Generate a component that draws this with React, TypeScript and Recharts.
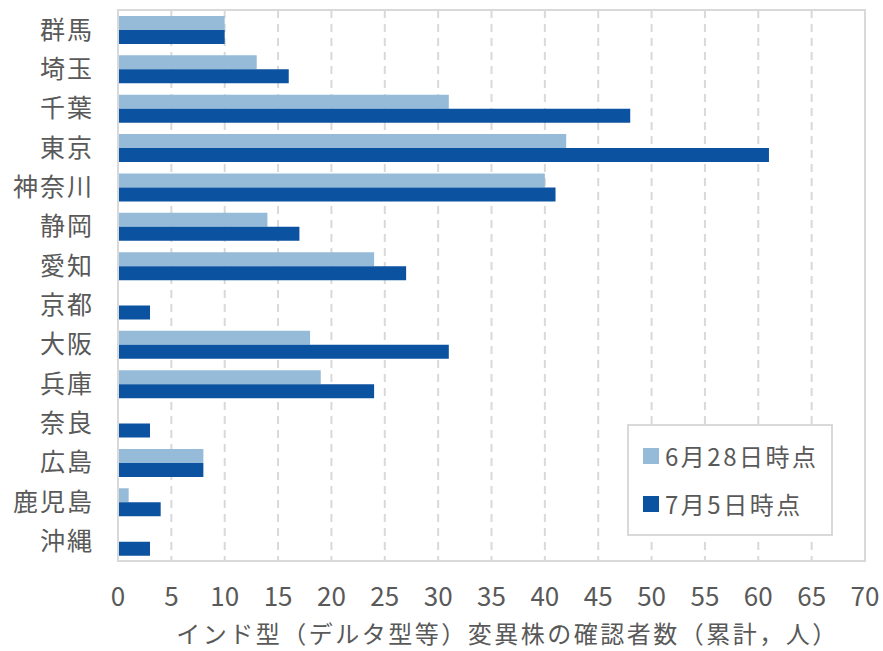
import { BarChart, Bar, XAxis, YAxis, CartesianGrid, Legend, ReferenceArea } from 'recharts';

// 都道府県ごとの確認者数（累計）
const prefectures = ['群馬', '埼玉', '千葉', '東京', '神奈川', '静岡', '愛知', '京都', '大阪', '兵庫', '奈良', '広島', '鹿児島', '沖縄'];
const june28 = [10, 13, 31, 42, 40, 14, 24, 0, 18, 19, 0, 8, 1, 0];
const july5 = [10, 16, 48, 61, 41, 17, 27, 3, 31, 24, 3, 8, 4, 3];
const xTicks = [0, 5, 10, 15, 20, 25, 30, 35, 40, 45, 50, 55, 60, 65, 70];

const seriesNames = ['6月28日時点', '7月5日時点'];
const seriesColors = ['#95bbd8', '#0b52a0'];

const FONT = '"Noto Sans CJK JP", "Noto Sans", sans-serif';
const TEXT = '#595959';
const LINE = '#d9d9d9';

const data = prefectures.map((name, i) => ({
  name,
  june28: june28[i],
  july5: july5[i],
}));

function LegendBox(props: any) {
  const items = props.payload || [];
  return (
    <div
      style={{
        display: 'flex',
        flexDirection: 'column',
        justifyContent: 'space-around',
        height: '100%',
        padding: '6px 0 6px 14px',
        boxSizing: 'border-box',
      }}
    >
      {items.map((item: any) => (
        <div key={item.value} style={{ display: 'flex', alignItems: 'center' }}>
          <span style={{ width: 16, height: 16, background: item.color, marginRight: 6, display: 'inline-block' }} />
          <span style={{ fontFamily: FONT, fontSize: 24, color: TEXT, letterSpacing: 2.5, lineHeight: '30px' }}>{item.value}</span>
        </div>
      ))}
    </div>
  );
}

export default function App() {
  return (
    <div style={{ width: 883, height: 651, background: '#fff' }}>
      <style>{'body{margin:0}'}</style>
      <BarChart
        width={883}
        height={651}
        data={data}
        layout="vertical"
        margin={{ top: 10, right: 18, bottom: 0, left: 0 }}
        barGap={0}
      >
        <CartesianGrid horizontal={false} stroke={LINE} strokeWidth={2} strokeDasharray="8 6" />
        <XAxis
          type="number"
          domain={[0, 70]}
          ticks={xTicks}
          height={90}
          axisLine={false}
          tickLine={false}
          tickSize={0}
          tickMargin={27}
          tick={{ fill: TEXT, fontSize: 26, fontFamily: FONT }}
          interval={0}
          label={{
            value: 'インド型（デルタ型等）変異株の確認者数（累計，人）',
            position: 'insideBottom',
            offset: 8,
            dx: 16,
            fill: TEXT,
            fontSize: 24,
            fontFamily: FONT,
            letterSpacing: 2.5,
          }}
        />
        <YAxis
          type="category"
          dataKey="name"
          width={118}
          axisLine={{ stroke: LINE, strokeWidth: 2 }}
          tickLine={false}
          tickSize={0}
          tickMargin={24}
          interval={0}
          tick={{ fill: TEXT, fontSize: 25, fontFamily: FONT, letterSpacing: 2 }}
        />
        <ReferenceArea x1={0} x2={70} fill="none" stroke={LINE} strokeWidth={2} ifOverflow="visible" />
        <Legend
          layout="vertical"
          verticalAlign="middle"
          align="center"
          content={<LegendBox />}
          wrapperStyle={{
            left: 627,
            top: 424,
            width: 206,
            height: 112,
            border: `2px solid ${LINE}`,
            background: '#fff',
            boxSizing: 'border-box',
          }}
        />
        <Bar dataKey="june28" name={seriesNames[0]} fill={seriesColors[0]} barSize={14} isAnimationActive={false} />
        <Bar dataKey="july5" name={seriesNames[1]} fill={seriesColors[1]} barSize={14} isAnimationActive={false} />
      </BarChart>
    </div>
  );
}
